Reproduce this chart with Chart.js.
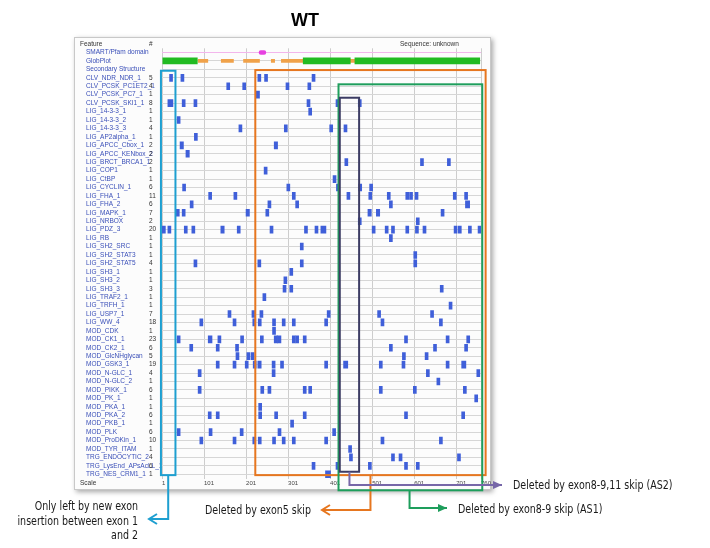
<!DOCTYPE html>
<html>
<head>
<meta charset="utf-8">
<script src="https://cdn.jsdelivr.net/npm/chart.js@4.4.1/dist/chart.umd.min.js"></script>
<style>
  html, body { margin: 0; padding: 0; background: #fff; }
  #wrap { width: 710px; height: 548px; }
</style>
</head>
<body>
<div id="wrap"><canvas id="elmChart" width="710" height="548"></canvas></div>
<script>
// sequence positions on the scale row
const seqLength = 760;
const scaleTicks = [1, 101, 201, 301, 401, 501, 601, 701, 760];

const trackNames = ['SMART/Pfam domain', 'GlobPlot', 'Secondary Structure'];

const motifNames = [
  'CLV_NDR_NDR_1', 'CLV_PCSK_PC1ET2_1', 'CLV_PCSK_PC7_1', 'CLV_PCSK_SKI1_1',
  'LIG_14-3-3_1', 'LIG_14-3-3_2', 'LIG_14-3-3_3', 'LIG_AP2alpha_1',
  'LIG_APCC_Cbox_1', 'LIG_APCC_KENbox_2', 'LIG_BRCT_BRCA1_1', 'LIG_COP1',
  'LIG_CtBP', 'LIG_CYCLIN_1', 'LIG_FHA_1', 'LIG_FHA_2', 'LIG_MAPK_1',
  'LIG_NRBOX', 'LIG_PDZ_3', 'LIG_RB', 'LIG_SH2_SRC', 'LIG_SH2_STAT3',
  'LIG_SH2_STAT5', 'LIG_SH3_1', 'LIG_SH3_2', 'LIG_SH3_3', 'LIG_TRAF2_1',
  'LIG_TRFH_1', 'LIG_USP7_1', 'LIG_WW_4', 'MOD_CDK', 'MOD_CK1_1',
  'MOD_CK2_1', 'MOD_GlcNHglycan', 'MOD_GSK3_1', 'MOD_N-GLC_1', 'MOD_N-GLC_2',
  'MOD_PIKK_1', 'MOD_PK_1', 'MOD_PKA_1', 'MOD_PKA_2', 'MOD_PKB_1', 'MOD_PLK',
  'MOD_ProDKin_1', 'MOD_TYR_ITAM', 'TRG_ENDOCYTIC_2', 'TRG_LysEnd_APsAcLL_1',
  'TRG_NES_CRM1_1'
];

const motifCounts = [5, 4, 1, 8, 1, 1, 4, 1, 2, 2, 2, 1, 1, 6, 11, 6, 7, 2, 20, 1, 1, 1, 4, 1,
  1, 3, 1, 1, 7, 18, 1, 23, 6, 5, 19, 4, 1, 6, 1, 1, 6, 1, 6, 10, 1, 4, 6, 1];

// [start, end] residues of every motif hit, one list per motif row
const motifHits = [
  [[19, 23], [46, 50], [229, 233], [245, 249], [358, 362]],
  [[155, 159], [193, 197], [296, 300], [348, 352]],
  [[225, 233]],
  [[15, 27], [49, 53], [77, 81], [346, 350], [415, 421], [468, 474]],
  [[350, 354]],
  [[37, 43]],
  [[184, 190], [292, 298], [400, 405], [434, 439]],
  [[78, 83]],
  [[44, 52], [268, 276]],
  [[58, 66]],
  [[436, 441], [616, 621], [680, 685]],
  [[244, 251]],
  [[408, 413]],
  [[50, 55], [298, 303], [416, 421], [469, 474], [495, 500]],
  [[112, 118], [172, 178], [311, 317], [441, 447], [493, 498], [537, 542], [581, 586], [590, 595], [603, 608], [694, 699], [721, 726]],
  [[68, 75], [253, 260], [319, 325], [542, 548], [723, 733]],
  [[35, 41], [49, 55], [201, 209], [248, 254], [491, 499], [511, 519], [665, 671]],
  [[468, 474], [606, 612]],
  [[1, 9], [15, 20], [54, 58], [72, 76], [141, 149], [180, 186], [258, 262], [340, 344], [365, 369], [379, 391],
   [501, 505], [532, 538], [547, 552], [581, 585], [604, 608], [622, 626], [696, 701], [706, 711], [730, 734], [753, 757]],
  [[542, 548]],
  [[330, 336]],
  [[600, 604]],
  [[77, 82], [229, 234], [330, 336], [600, 604]],
  [[305, 311]],
  [[291, 297]],
  [[289, 295], [305, 311], [663, 669]],
  [[241, 246]],
  [[684, 689]],
  [[158, 164], [215, 221], [234, 239], [394, 399], [514, 520], [640, 645]],
  [[91, 97], [170, 176], [217, 223], [230, 236], [264, 270], [287, 293], [311, 317], [388, 394], [522, 528], [661, 667]],
  [[264, 270]],
  [[37, 43], [111, 120], [134, 140], [188, 194], [235, 242], [268, 276], [276, 284], [311, 317], [319, 325], [337, 343], [578, 584], [677, 683], [726, 733]],
  [[67, 74], [130, 136], [176, 182], [542, 548], [647, 653], [721, 727]],
  [[177, 181], [203, 207], [213, 217], [573, 577], [627, 631]],
  [[130, 136], [170, 176], [199, 205], [218, 224], [229, 237], [263, 269], [283, 289], [388, 394], [433, 443], [518, 524], [572, 578], [677, 683], [714, 724]],
  [[87, 93], [263, 269], [630, 636], [750, 756]],
  [[655, 658]],
  [[87, 93], [236, 242], [253, 259], [337, 343], [350, 356], [518, 524], [599, 605], [718, 724]],
  [[745, 751]],
  [[231, 237]],
  [[111, 117], [130, 136], [231, 237], [269, 275], [337, 343], [578, 584], [714, 720]],
  [[307, 313]],
  [[37, 43], [113, 119], [187, 193], [277, 283], [407, 413]],
  [[91, 97], [170, 176], [217, 223], [230, 236], [264, 270], [287, 293], [311, 317], [388, 394], [522, 528], [661, 667]],
  [[445, 451]],
  [[447, 451], [547, 551], [565, 569], [704, 708]],
  [[358, 364], [415, 421], [492, 498], [578, 584], [606, 612]],
  [[390, 402]]
];

const smartDomains = [[232, 248]];
const globularRegions = [[3, 85], [337, 449], [460, 757]];
const disorderRegions = [[87, 110], [142, 171], [195, 233], [261, 269], [285, 337], [449, 460]];

const rowLabels = trackNames.concat(motifNames);

function toBars(ranges, row) {
  return ranges.map(r => ({ x: r, y: row }));
}

// deleted regions, in residues (x) and row index (y)
const deletionBoxes = [
  { from: -1.5, to: 33, top: 2.16, bottom: 50.1, color: '#1e9fd0', lead: 15.75, turnY: 519, tipX: 149,
    head: 'open', text: ['Only left by new exon', 'insertion between exon 1', 'and 2'], textX: 138, textY: [510, 524.5, 539], align: 'right' },
  { from: 223, to: 771, top: 2.08, bottom: 50.1, color: '#e6761f', lead: 497, turnY: 510, tipX: 322,
    head: 'open', text: ['Deleted by exon5 skip'], textX: 205, textY: [514], align: 'left' },
  { from: 421, to: 763, top: 3.77, bottom: 51.9, color: '#1e9e5c', lead: 590, turnY: 508, tipX: 447,
    head: 'solid', text: ['Deleted by exon8-9 skip (AS1)'], textX: 458, textY: [513], align: 'left' },
  { from: 424, to: 470, top: 5.36, bottom: 49.7, color: '#3c3c64', lineColor: '#7767a8', lead: 447, turnY: 485, tipX: 502,
    head: 'solid', text: ['Deleted by exon8-9,11 skip (AS2)'], textX: 513, textY: [489], align: 'left' }
];

const panelPlugin = {
  id: 'panel',
  beforeDraw(chart) {
    const ctx = chart.ctx;
    const ys = chart.scales.y;
    ctx.save();
    ctx.fillStyle = '#fff';
    ctx.fillRect(0, 0, chart.width, chart.height);

    ctx.shadowColor = 'rgba(0,0,0,0.35)';
    ctx.shadowBlur = 5;
    ctx.shadowOffsetX = 2;
    ctx.shadowOffsetY = 2;
    ctx.fillStyle = '#fcfcfc';
    ctx.fillRect(74, 37, 417, 453);
    ctx.shadowColor = 'transparent';
    ctx.strokeStyle = '#c8c8c8';
    ctx.lineWidth = 1;
    ctx.strokeRect(74.5, 37.5, 416, 452);

    ctx.font = '6.5px "Liberation Sans", Arial, sans-serif';
    ctx.textBaseline = 'middle';
    ctx.fillStyle = '#333';
    const headY = ys.getPixelForValue(-1);
    ctx.fillText('Feature', 80, headY);
    ctx.fillText('#', 149, headY);
    ctx.fillText('Sequence: unknown', 400, headY);
    ctx.fillText('Scale', 80, ys.getPixelForValue(rowLabels.length));

    rowLabels.forEach((name, i) => {
      ctx.fillStyle = '#3a4fb8';
      ctx.fillText(name, 86, ys.getPixelForValue(i));
    });
    motifCounts.forEach((n, i) => {
      ctx.fillStyle = '#333';
      ctx.fillText(String(n), 149, ys.getPixelForValue(i + trackNames.length));
    });

    ctx.font = 'bold 18px "Liberation Sans", Arial, sans-serif';
    ctx.textAlign = 'center';
    ctx.textBaseline = 'alphabetic';
    ctx.fillStyle = '#000';
    ctx.fillText('WT', 305, 26);
    ctx.restore();
  }
};

const deletionPlugin = {
  id: 'deletions',
  afterDraw(chart) {
    const ctx = chart.ctx;
    const xs = chart.scales.x, ys = chart.scales.y;
    ctx.save();
    deletionBoxes.forEach(b => {
      const l = xs.getPixelForValue(b.from), r = xs.getPixelForValue(b.to);
      const t = ys.getPixelForValue(b.top), bt = ys.getPixelForValue(b.bottom);
      ctx.lineWidth = 2;
      ctx.strokeStyle = b.color;
      ctx.strokeRect(l, t, r - l, bt - t);

      const lineColor = b.lineColor || b.color;
      const lx = xs.getPixelForValue(b.lead);
      ctx.strokeStyle = lineColor;
      ctx.fillStyle = lineColor;
      ctx.beginPath();
      ctx.moveTo(lx, bt);
      ctx.lineTo(lx, b.turnY);
      ctx.lineTo(b.tipX, b.turnY);
      ctx.stroke();

      const dir = b.tipX < lx ? 1 : -1;
      ctx.beginPath();
      if (b.head === 'open') {
        ctx.moveTo(b.tipX + dir * 8, b.turnY - 5);
        ctx.lineTo(b.tipX, b.turnY);
        ctx.lineTo(b.tipX + dir * 8, b.turnY + 5);
        ctx.stroke();
      } else {
        ctx.moveTo(b.tipX, b.turnY);
        ctx.lineTo(b.tipX + dir * 9, b.turnY - 4);
        ctx.lineTo(b.tipX + dir * 9, b.turnY + 4);
        ctx.closePath();
        ctx.fill();
      }

      // narrow the caption a bit, the original used a condensed office font
      ctx.font = '12px "Liberation Sans Narrow", "DejaVu Sans Condensed", sans-serif';
      ctx.textAlign = b.align;
      ctx.textBaseline = 'alphabetic';
      ctx.fillStyle = '#1a1a1a';
      b.text.forEach((line, k) => {
        ctx.save();
        ctx.translate(b.textX, b.textY[k]);
        ctx.scale(0.88, 1);
        ctx.fillText(line, 0, 0);
        ctx.restore();
      });
    });
    ctx.restore();
  }
};

const data = {
  labels: rowLabels,
  datasets: [
    {
      label: 'Motifs',
      data: motifHits.flatMap((hits, i) => toBars(hits, motifNames[i])),
      backgroundColor: '#3f5fd9',
      barThickness: 7,
      minBarLength: 3,
      grouped: false,
      borderWidth: 0
    },
    {
      label: 'Globular',
      data: toBars(globularRegions, 'GlobPlot'),
      backgroundColor: '#22bb22',
      barThickness: 6,
      grouped: false,
      borderWidth: 0
    },
    {
      label: 'Disorder',
      data: toBars(disorderRegions, 'GlobPlot'),
      backgroundColor: '#f0a24a',
      barThickness: 3,
      grouped: false,
      borderWidth: 0
    },
    {
      label: 'SMART',
      data: toBars(smartDomains, 'SMART/Pfam domain'),
      backgroundColor: '#e63fe0',
      barThickness: 4,
      borderRadius: 2,
      borderSkipped: false,
      grouped: false,
      borderWidth: 0
    }
  ]
};

const config = {
  type: 'bar',
  data: data,
  options: {
    indexAxis: 'y',
    responsive: false,
    animation: false,
    layout: { padding: { left: 162, right: 229, top: 48.3, bottom: 59.5 } },
    plugins: {
      legend: { display: false },
      tooltip: { enabled: false }
    },
    scales: {
      x: {
        type: 'linear',
        min: 1,
        max: seqLength,
        afterBuildTicks: function (scale) {
          scale.ticks = scaleTicks.map(v => ({ value: v }));
        },
        afterFit: function (scale) { scale.height = 10; },
        grid: { color: '#cdcdcd', drawTicks: false },
        border: { display: false },
        ticks: {
          align: 'start',
          padding: 1,
          autoSkip: false,
          maxRotation: 0,
          color: '#444',
          font: { size: 6, family: 'Liberation Sans' },
          callback: v => String(v)
        }
      },
      y: {
        type: 'category',
        labels: rowLabels,
        offset: true,
        afterFit: function (scale) { scale.width = 0; },
        grid: {
          offset: false,
          drawTicks: false,
          color: ctx => (ctx.index === 0 ? '#f3b6ec' : '#d6d6d6')
        },
        border: { display: false },
        ticks: { display: false }
      }
    }
  },
  plugins: [panelPlugin, deletionPlugin]
};

new Chart(document.getElementById('elmChart').getContext('2d'), config);
</script>
</body>
</html>
